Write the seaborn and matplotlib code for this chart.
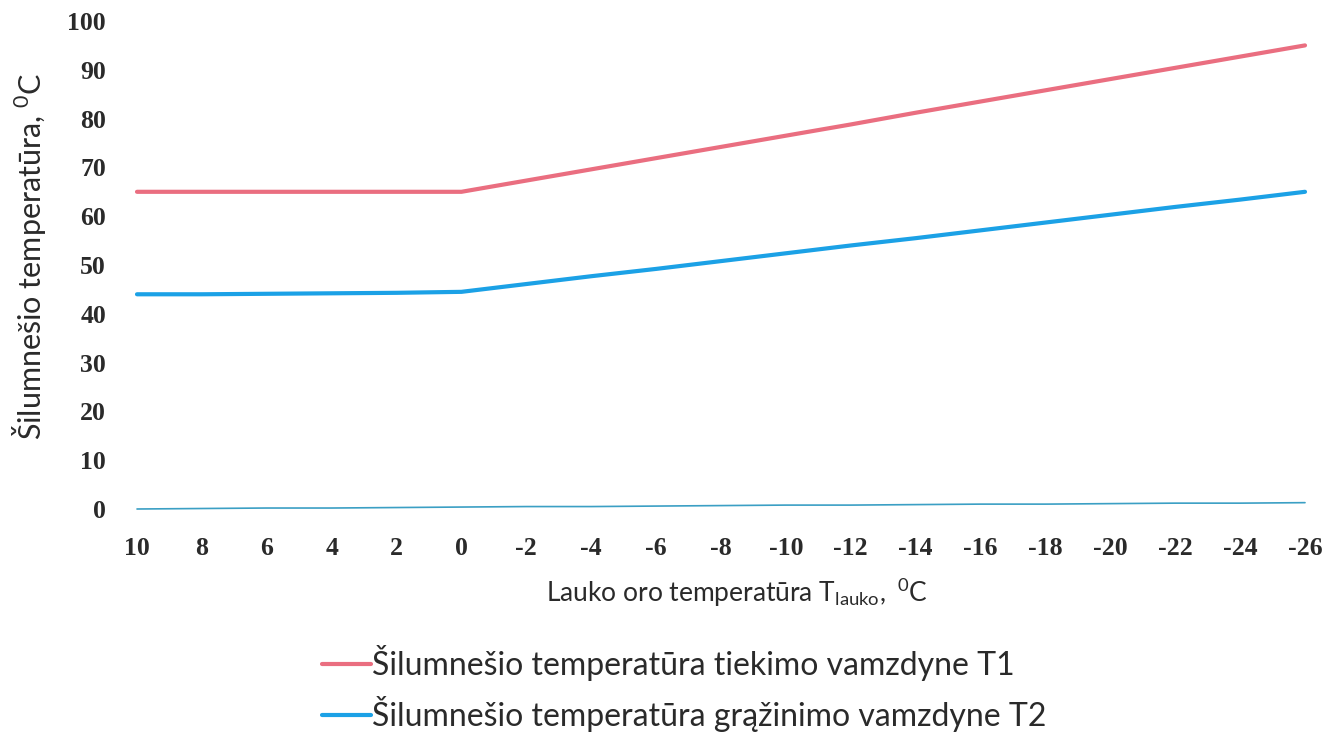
import matplotlib
matplotlib.use("Agg")
import matplotlib.pyplot as plt
import numpy as np
import pandas as pd
import seaborn as sns
from matplotlib.lines import Line2D

# outdoor air temperature categories (x axis, left to right)
outdoor_temp = [10, 8, 6, 4, 2, 0, -2, -4, -6, -8, -10, -12, -14, -16, -18, -20, -22, -24, -26]

# supply pipe temperature T1
t1_supply = [65, 65, 65, 65, 65, 65, 67.3, 69.6, 71.9, 74.2, 76.5, 78.8, 81.2, 83.5,
             85.8, 88.1, 90.4, 92.7, 95]
# return pipe temperature T2
t2_return = [44, 44, 44.1, 44.2, 44.3, 44.5, 46.1, 47.7, 49.2, 50.8, 52.4, 54.0, 55.5,
             57.1, 58.7, 60.3, 61.9, 63.4, 65]
# thin line near zero (no legend entry)
t_base = [0, 0.1, 0.2, 0.2, 0.3, 0.4, 0.5, 0.5, 0.6, 0.7, 0.8, 0.8, 0.9, 1.0, 1.0,
          1.1, 1.2, 1.2, 1.3]

label_t1 = "Šilumnešio temperatūra tiekimo vamzdyne T1"
label_t2 = "Šilumnešio temperatūra grąžinimo vamzdyne T2"

red = "#EA6E80"
blue = "#1BA1E6"
teal = "#3B9FC4"
txt = "#2a2a2a"

df = pd.DataFrame({
    "pos": np.arange(len(outdoor_temp)),
    "t1": t1_supply,
    "t2": t2_return,
    "base": t_base,
})

sns.set_theme(style="white")
plt.rcParams['font.family'] = ['Lato', 'DejaVu Sans']

fig = plt.figure(figsize=(13.27, 7.34), dpi=100)
ax = fig.add_axes([120 / 1327, 225 / 734, 1 - 120 / 1327, 488 / 734])

sns.lineplot(data=df, x="pos", y="t1", ax=ax, color=red, linewidth=3, clip_on=False)
sns.lineplot(data=df, x="pos", y="t2", ax=ax, color=blue, linewidth=3, clip_on=False)
sns.lineplot(data=df, x="pos", y="base", ax=ax, color=teal, linewidth=1.2, clip_on=False)

ax.set_xlim(-17 / 64.9, 18 + 22 / 64.9)
ax.set_ylim(0, 100)
ax.set_yticks(range(0, 101, 10))
ax.set_xticks(df["pos"])
ax.set_xticklabels([str(t) for t in outdoor_temp])
for s in ax.spines.values():
    s.set_visible(False)
ax.tick_params(axis="both", length=0, labelsize=18.5, colors=txt)
ax.tick_params(axis="x", pad=20)
ax.tick_params(axis="y", pad=10)
for lab in ax.get_xticklabels() + ax.get_yticklabels():
    lab.set_family("Liberation Serif")
    lab.set_fontweight("bold")

ax.set_ylabel("Šilumnešio temperatūra, $\\mathregular{^0}$C", fontsize=22, color=txt)
ax.set_xlabel("Lauko oro temperatūra T$\\mathregular{_{lauko},}$ $\\mathregular{^0}$C", fontsize=19,
              color=txt)
ax.yaxis.set_label_coords(-0.060, 0.518)
ax.xaxis.set_label_coords(0.511, -0.138)

handles = [Line2D([0], [0], color=red, linewidth=3),
           Line2D([0], [0], color=blue, linewidth=3)]
fig.legend(handles, [label_t1, label_t2], loc="upper left", bbox_to_anchor=(0.2327, 0.138),
           frameon=False, fontsize=23, handlelength=1.55, handletextpad=0.03, labelspacing=0.45,
           borderaxespad=0, labelcolor=txt)

fig.savefig("out.png", dpi=100)
